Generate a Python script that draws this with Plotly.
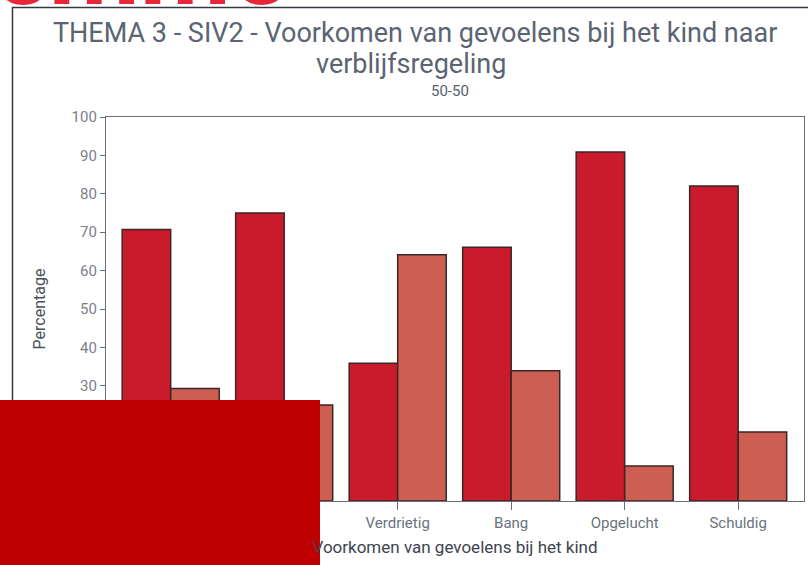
import plotly.graph_objects as go

categories = ["Blij", "Boos", "Verdrietig", "Bang", "Opgelucht", "Schuldig"]
ja_values = [70.7, 75.0, 35.9, 66.1, 90.9, 82.0]
nee_values = [29.3, 25.0, 64.1, 33.9, 9.1, 18.0]
series_names = ["Ja", "Nee"]
y_ticks = [0, 10, 20, 30, 40, 50, 60, 70, 80, 90, 100]

FONT = "Roboto"
W, H = 808, 565
# plot area in window pixels: x 106..804, y 117..501
L, R, T, B = 106, 808 - 804, 117, 565 - 501
pw, ph = W - L - R, H - T - B

def px(x):
    return (x - L) / pw

def py(y):
    return (H - B - y) / ph

fig = go.Figure()
fig.add_trace(go.Bar(x=categories, y=ja_values, name=series_names[0],
                     marker=dict(color="#C91B2B", line=dict(color="#3a2626", width=1.5))))
fig.add_trace(go.Bar(x=categories, y=nee_values, name=series_names[1],
                     marker=dict(color="#CC5F52", line=dict(color="#3a2626", width=1.5))))

fig.update_layout(
    width=W, height=H,
    margin=dict(l=L, r=R, t=T, b=B, autoexpand=False),
    paper_bgcolor="white", plot_bgcolor="white",
    barmode="group", bargap=0.145, bargroupgap=0,
    showlegend=False,
    font=dict(family=FONT, color="#6b7280"),
    xaxis=dict(range=[-0.57, 5.58], showline=True, linecolor="#6b6f78", linewidth=1.2,
               mirror=True, ticks="outside", ticklen=8, tickcolor="#6b6f78",
               automargin=False,
               tickfont=dict(size=15, color="#6b7280"),
               title=dict(text="Voorkomen van gevoelens bij het kind",
                          font=dict(size=17, color="#3d4350"), standoff=10)),
    yaxis=dict(range=[0, 100], tickvals=y_ticks, showline=True, linecolor="#6b6f78",
               linewidth=1.2, mirror=True, ticks="outside", ticklen=5, tickcolor="#6b6f78",
               showgrid=False, zeroline=False, automargin=False,
               tickfont=dict(size=15, color="#7a7f8a"),
               title=dict(text="Percentage", font=dict(size=16, color="#4a505c"), standoff=22)),
)

# title (two lines) and subtitle
fig.add_annotation(text="THEMA 3 - SIV2 - Voorkomen van gevoelens bij het kind naar",
                   x=px(415), y=py(33), xref="paper", yref="paper", showarrow=False,
                   xanchor="center", yanchor="middle",
                   font=dict(family=FONT, size=27, color="#5b6473"))
fig.add_annotation(text="verblijfsregeling",
                   x=px(411), y=py(64), xref="paper", yref="paper", showarrow=False,
                   xanchor="center", yanchor="middle",
                   font=dict(family=FONT, size=27, color="#5b6473"))
fig.add_annotation(text="50-50", x=px(450), y=py(91), xref="paper", yref="paper",
                   xanchor="center", yanchor="middle",
                   showarrow=False, font=dict(family=FONT, size=15, color="#555d6b"))

# red header text (cut off at the top of the window)
fig.add_annotation(text="<b>emme</b>", x=px(-10), y=py(32), xref="paper", yref="paper",
                   xanchor="left", yanchor="bottom", showarrow=False,
                   font=dict(family=FONT, size=105, color="#E8263A"))
# outer frame
fig.add_shape(type="rect", xref="paper", yref="paper",
              x0=px(12.5), x1=px(830), y0=py(600), y1=py(7.5),
              line=dict(color="#333840", width=1.5), layer="above")
# red block overlay
fig.add_shape(type="rect", xref="paper", yref="paper",
              x0=px(-5), x1=px(320), y0=py(570), y1=py(400),
              fillcolor="#BF0000", line=dict(width=0), layer="above")

fig.write_html("out.html", config={"displayModeBar": False},
               post_script="document.body.style.margin='0';")
